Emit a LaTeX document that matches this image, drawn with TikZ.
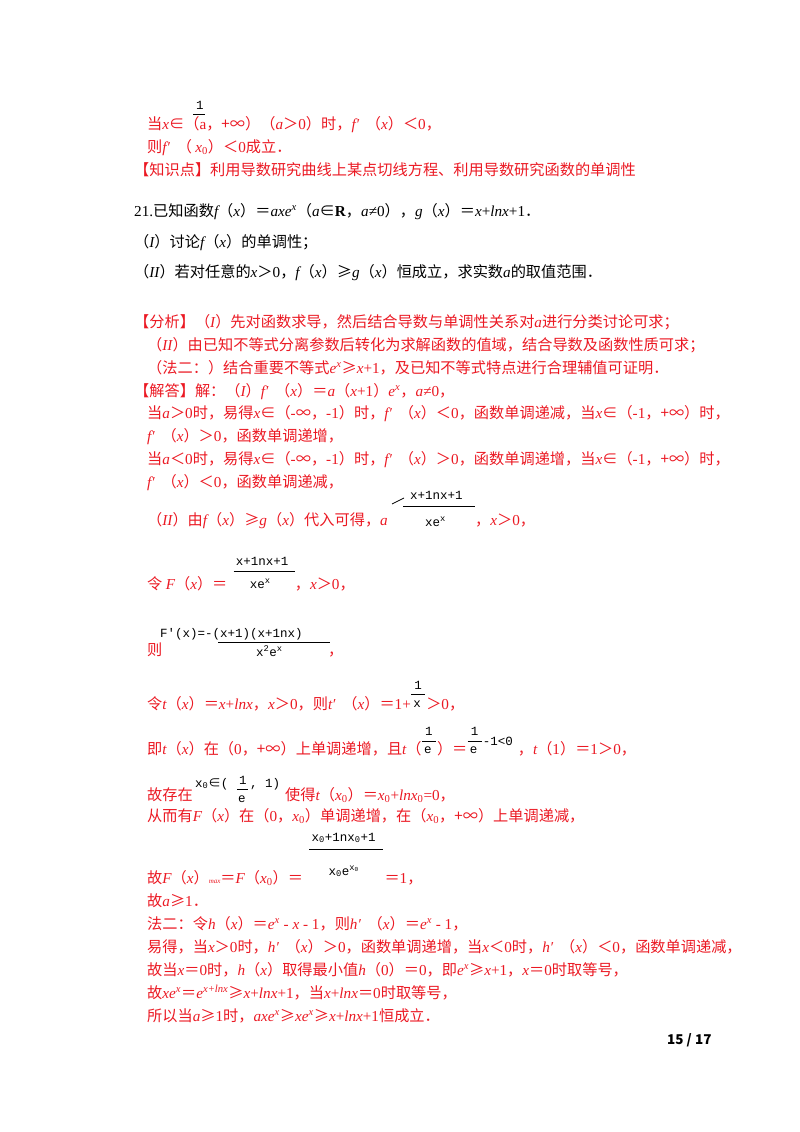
\documentclass[tikz,border=0pt]{standalone}
\usepackage{fontspec}
\setmainfont{Noto Sans CJK SC}
\newfontfamily\lat{Liberation Serif}
\newfontfamily\mono{Liberation Mono}
\newcommand\vi[1]{{\lat\itshape #1}}
\newcommand\vr[1]{{\lat #1}}
\definecolor{ans}{RGB}{235,25,35}
\begin{document}
\begin{tikzpicture}[x=1pt,y=-1pt,
  t/.style={anchor=base west,inner sep=0pt,font=\fontsize{15.2}{17}\selectfont},
  r/.style={t,text=ans},
  g/.style={anchor=base west,inner sep=0pt,font=\mono\fontsize{12.5}{14}\selectfont},
  bar/.style={line width=0.8pt}]
\useasboundingbox (0,0) rectangle (800,1132);
% top
\node[g] (n1) at (196,109) {1};
\draw[bar] (193,114) -- (205,114);
\node[r] (l1) at (147,129) {当\vi{x}∈（\vr{a}，+∞）（\vi{a}＞\vr{0}）时，\vi{f′}\ \ （\vi{x}）＜\vr{0}，};
\node[r] (l2) at (147,152) {则\vi{f′}\ \ （ \vi{x}\vr{\textsubscript{0}}）＜\vr{0}成立．};
\node[r] (l3) at (134,175) {【知识点】利用导数研究曲线上某点切线方程、利用导数研究函数的单调性};
% question
\node[t] (q1) at (134,216) {\vr{21.}已知函数\vi{f}（\vi{x}）＝\vi{axe\textsuperscript{x}}（\vi{a}∈\vr{\textbf{R}}，\vi{a}\vr{≠0}），\vi{g}（\vi{x}）＝\vi{x}\vr{+}\vi{lnx}\vr{+1}．};
\node[t] (q2) at (134,247) {（\vi{I}）讨论\vi{f}（\vi{x}）的单调性；};
\node[t] (q3) at (134,277) {（\vi{II}）若对任意的\vi{x}＞\vr{0}，\vi{f}（\vi{x}）≥\vi{g}（\vi{x}）恒成立，求实数\vi{a}的取值范围．};
% analysis
\node[r] (a1) at (134,327) {【分析】（\vi{I}）先对函数求导，然后结合导数与单调性关系对\vi{a}进行分类讨论可求；};
\node[r] (a2) at (147,350) {（\vi{II}）由已知不等式分离参数后转化为求解函数的值域，结合导数及函数性质可求；};
\node[r] (a3) at (147,373) {（法二：）结合重要不等式\vi{e\textsuperscript{x}}≥\vi{x}\vr{+1}，及已知不等式特点进行合理辅值可证明．};
\node[r] (s1) at (134,396) {【解答】解：（\vi{I}）\vi{f′}\ \ （\vi{x}）＝\vi{a}（\vi{x}\vr{+1}）\vi{e\textsuperscript{x}}，\vi{a}\vr{≠0}，};
\node[r] (s2) at (147,418) {当\vi{a}＞\vr{0}时，易得\vi{x}∈（\vr{-}∞，\vr{-1}）时，\vi{f′}\ \ （\vi{x}）＜\vr{0}，函数单调递减，当\vi{x}∈（\vr{-1}，+∞）时，};
\node[r] (s3) at (147,441) {\vi{f′}\ \ （\vi{x}）＞\vr{0}，函数单调递增，};
\node[r] (s4) at (147,464) {当\vi{a}＜\vr{0}时，易得\vi{x}∈（\vr{-}∞，\vr{-1}）时，\vi{f′}\ \ （\vi{x}）＞\vr{0}，函数单调递增，当\vi{x}∈（\vr{-1}，+∞）时，};
\node[r] (s5) at (147,487) {\vi{f′}\ \ （\vi{x}）＜\vr{0}，函数单调递减，};
\node[r] (s6) at (147,525) {（\vi{II}）由\vi{f}（\vi{x}）≥\vi{g}（\vi{x}）代入可得，\vi{a}};
\begin{scope}[shift={(s6.base east)}]
\draw[bar] (4,-21) -- (16,-27);
\node[g] (f1n) at (22,-26) {x+1nx+1};
\draw[bar] (15,-19) -- (87,-19);
\node[g] (f1d) at (37,1) {xe\textsuperscript{x}};
\node[r] (s6b) at (87,0) {，\vi{x}＞\vr{0}，};
\end{scope}
% F(x)
\node[r] (s7) at (147,589) {令 \vi{F}（\vi{x}）＝};
\begin{scope}[shift={(s7.base east)}]
\node[g] (f2n) at (8,-24) {x+1nx+1};
\draw[bar] (6,-18) -- (67,-18);
\node[g] (f2d) at (22,-1) {xe\textsuperscript{x}};
\node[r] (s7b) at (67,0) {，\vi{x}＞\vr{0}，};
\end{scope}
\node[g] (f3a) at (160,637) {F′(x)=-(x+1)(x+1nx)};
\draw[bar] (218,642) -- (330,642);
\node[g] (f3d) at (256,656) {x\textsuperscript{2}e\textsuperscript{x}};
\node[r] (s8) at (147,655) {则};
\node[r] (s8b) at (328,655) {，};
% t(x)
\node[r] (s9) at (147,709) {令\vi{t}（\vi{x}）＝\vi{x}\vr{+}\vi{lnx}，\vi{x}＞\vr{0}，则\vi{t′}\ \ （\vi{x}）＝\vr{1+}};
\begin{scope}[shift={(s9.base east)}]
\node[g] (f4n) at (3,-20) {1};
\draw[bar] (0,-15) -- (14,-15);
\node[g] (f4d) at (2,-2) {x};
\node[r] (s9b) at (15,0) {＞\vr{0}，};
\end{scope}
\node[r] (s10) at (147,754) {即\vi{t}（\vi{x}）在（\vr{0}，+∞）上单调递增，且\vi{t}（};
\begin{scope}[shift={(s10.base east)}]
\node[g] (f5n) at (3,-19) {1};
\draw[bar] (0,-13) -- (14,-13);
\node[g] (f5d) at (2,-1) {e};
\node[r] (s10b) at (15,0) {）＝};
\end{scope}
\begin{scope}[shift={(s10b.base east)}]
\node[g] (f6n) at (3,-19) {1};
\draw[bar] (0,-13) -- (14,-13);
\node[g] (f6d) at (2,-1) {e};
\node[g] (f6r) at (15,-9) {-1<0};
\node[r] (s10c) at (50,0) {，\vi{t}（\vr{1}）＝\vr{1}＞\vr{0}，};
\end{scope}
\node[r] (s11) at (147,800) {故存在};
\begin{scope}[shift={(s11.base east)}]
\node[g] (f7) at (2,-13) {x\textsubscript{0}{\rmfamily ∈}(};
\node[g] (f7n) at (46,-16) {1};
\draw[bar] (44,-11) -- (55,-11);
\node[g] (f7d) at (45,2) {e};
\node[g] (f7b) at (57,-13) {, 1)};
\node[r] (s11b) at (92,0) {使得\vi{t}（\vi{x}\vr{\textsubscript{0}}）＝\vi{x}\vr{\textsubscript{0}+}\vi{lnx}\vr{\textsubscript{0}=0}，};
\end{scope}
\node[r] (s12) at (147,821) {从而有\vi{F}（\vi{x}）在（\vr{0}，\vi{x}\vr{\textsubscript{0}}）单调递增，在（\vi{x}\vr{\textsubscript{0}}，+∞）上单调递减，};
\node[r] (s13) at (147,883) {故\vi{F}（\vi{x}）{\lat\itshape\scriptsize max}＝\vi{F}（\vi{x}\vr{\textsubscript{0}}）＝};
\begin{scope}[shift={(s13.base east)}]
\node[g] (f8n) at (8,-42) {x\textsubscript{0}+1nx\textsubscript{0}+1};
\draw[bar] (6,-34) -- (80,-34);
\node[g] (f8d) at (25,-8) {x\textsubscript{0}e\textsuperscript{x\textsubscript{0}}};
\node[r] (s13b) at (81,0) {＝\vr{1}，};
\end{scope}
\node[r] (s14) at (147,906) {故\vi{a}≥\vr{1}．};
\node[r] (s15) at (147,929) {法二：令\vi{h}（\vi{x}）＝\vi{e\textsuperscript{x}}\vr{ - }\vi{x}\vr{ - 1}，则\vi{h′}\ \ （\vi{x}）＝\vi{e\textsuperscript{x}}\vr{ - 1}，};
\node[r] (s16) at (147,952) {易得，当\vi{x}＞\vr{0}时，\vi{h′}\ \ （\vi{x}）＞\vr{0}，函数单调递增，当\vi{x}＜\vr{0}时，\vi{h′}\ \ （\vi{x}）＜\vr{0}，函数单调递减，};
\node[r] (s17) at (147,975) {故当\vi{x}＝\vr{0}时，\vi{h}（\vi{x}）取得最小值\vi{h}（\vr{0}）＝\vr{0}，即\vi{e\textsuperscript{x}}≥\vi{x}\vr{+1}，\vi{x}＝\vr{0}时取等号，};
\node[r] (s18) at (147,998) {故\vi{xe\textsuperscript{x}}＝\vi{e\textsuperscript{x+lnx}}≥\vi{x}\vr{+}\vi{lnx}\vr{+1}，当\vi{x}\vr{+}\vi{lnx}＝\vr{0}时取等号，};
\node[r] (s19) at (147,1021) {所以当\vi{a}≥\vr{1}时，\vi{axe\textsuperscript{x}}≥\vi{xe\textsuperscript{x}}≥\vi{x}\vr{+}\vi{lnx}\vr{+1}恒成立．};
\node[t,font=\bfseries\fontsize{13.5}{15}\selectfont] (pg) at (667,1044) {15 / 17};
\end{tikzpicture}
\end{document}
